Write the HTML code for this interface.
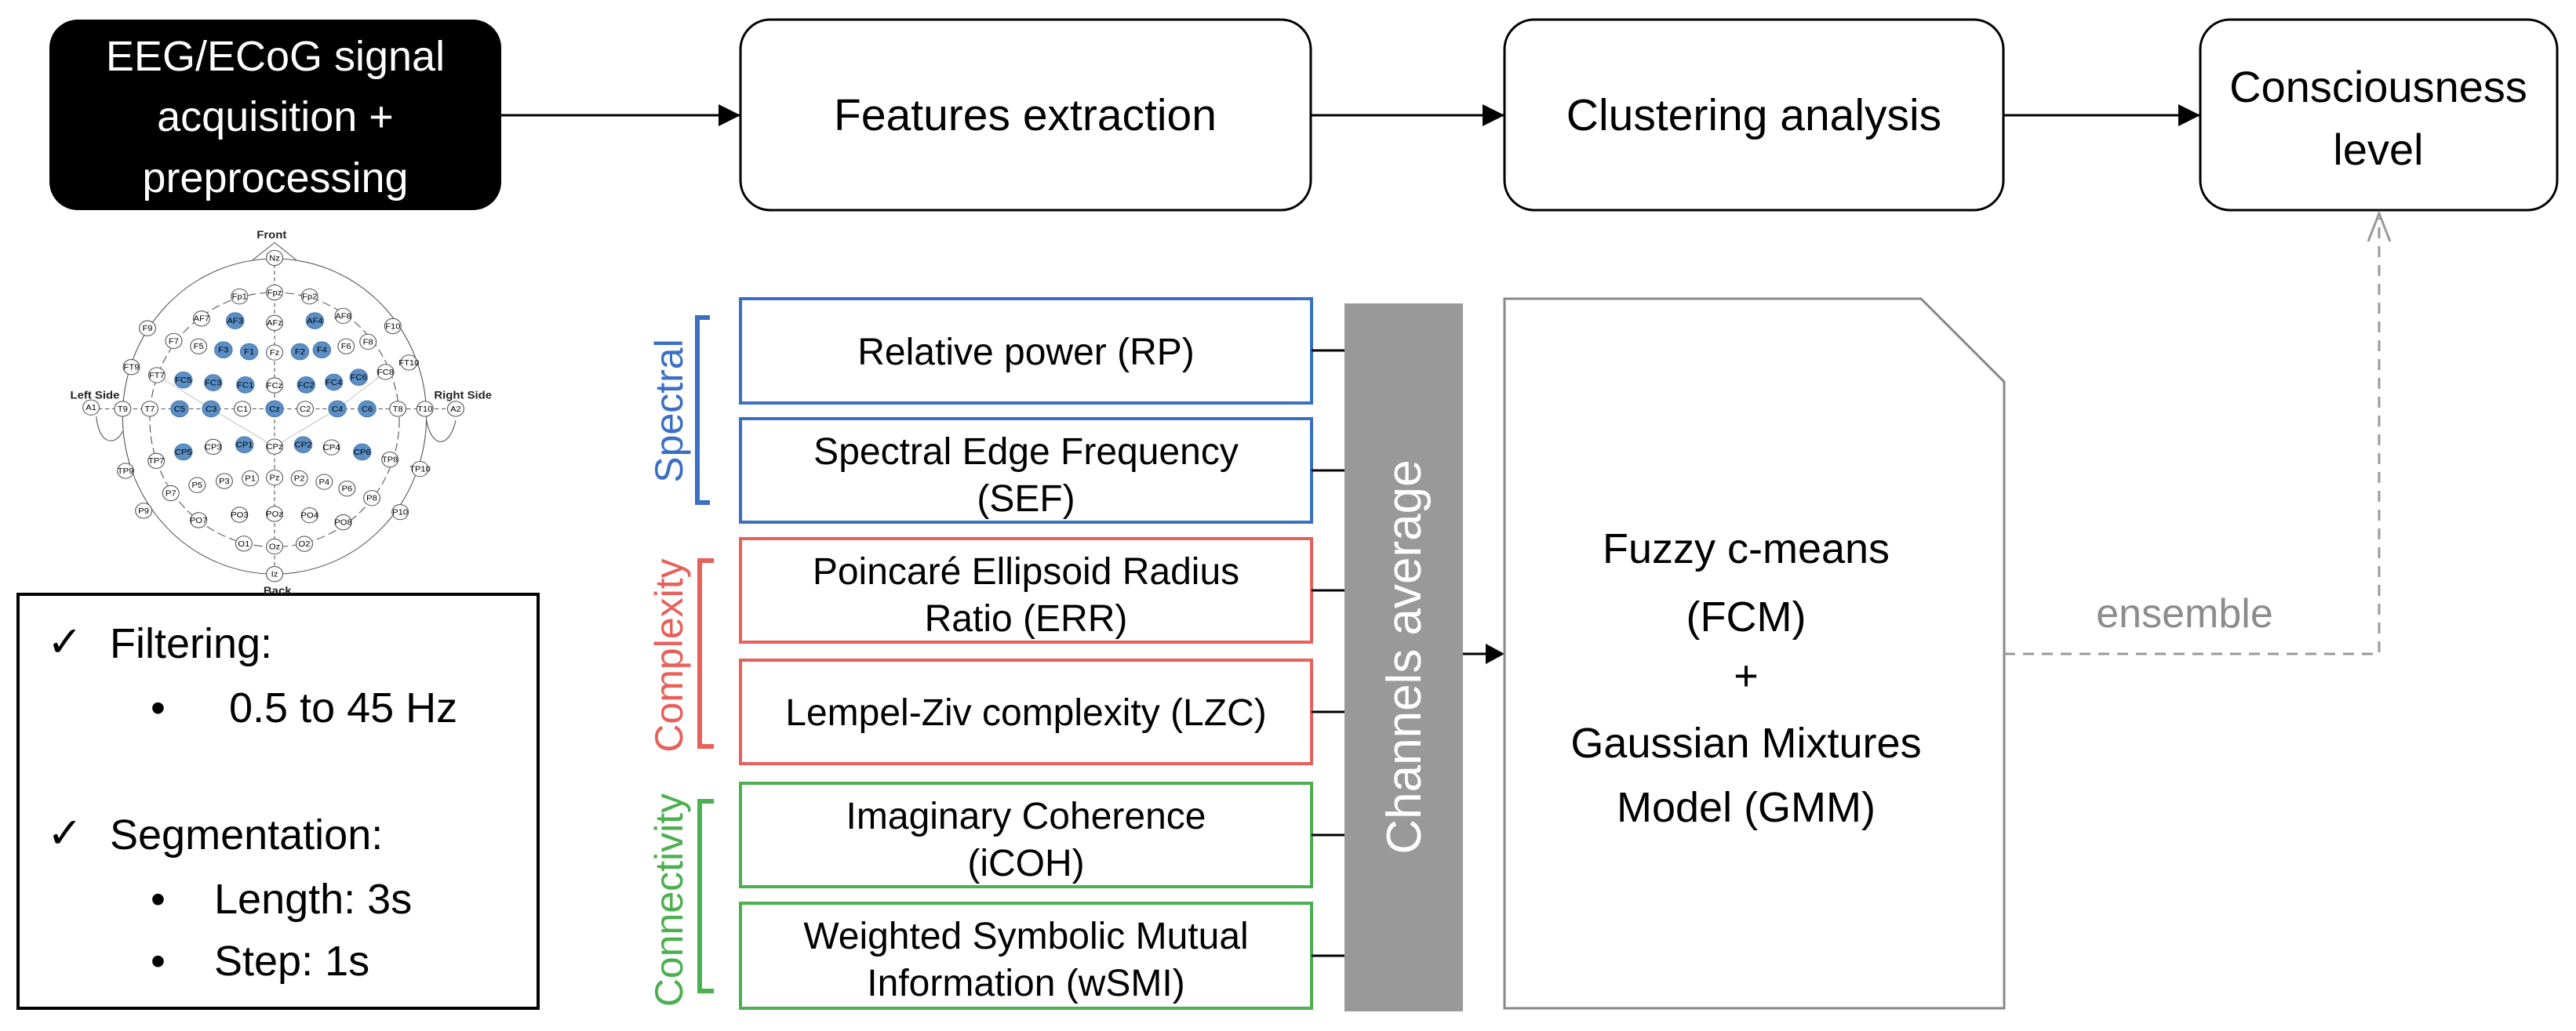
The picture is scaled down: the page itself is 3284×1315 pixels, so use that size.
<!DOCTYPE html>
<html><head><meta charset="utf-8"><style>
html,body{margin:0;padding:0;background:#fff;}
svg{display:block;}
text{font-family:"Liberation Sans",sans-serif;}
</style></head><body>
<svg width="3284" height="1315" viewBox="0 0 3284 1315" xmlns="http://www.w3.org/2000/svg">
<!-- top boxes -->
<rect x="63" y="25" width="576" height="243" rx="36" fill="#000"/>
<text x="351" y="90" font-size="54" fill="#fff" text-anchor="middle">EEG/ECoG signal</text>
<text x="351" y="167" font-size="54" fill="#fff" text-anchor="middle">acquisition +</text>
<text x="351" y="245" font-size="54" fill="#fff" text-anchor="middle">preprocessing</text>

<rect x="944" y="25" width="727" height="243" rx="38" fill="#fff" stroke="#000" stroke-width="3"/>
<text x="1307" y="166" font-size="57" text-anchor="middle">Features extraction</text>
<rect x="1918" y="25" width="636" height="243" rx="38" fill="#fff" stroke="#000" stroke-width="3"/>
<text x="2236" y="166" font-size="57" text-anchor="middle">Clustering analysis</text>
<rect x="2805" y="25" width="455" height="243" rx="38" fill="#fff" stroke="#000" stroke-width="3"/>
<text x="3032" y="130" font-size="56" text-anchor="middle">Consciousness</text>
<text x="3032" y="210" font-size="56" text-anchor="middle">level</text>

<g stroke="#000" stroke-width="3">
<line x1="639" y1="147" x2="944" y2="147"/>
<line x1="1671" y1="147" x2="1918" y2="147"/>
<line x1="2554" y1="147" x2="2805" y2="147"/>
</g>
<g fill="#000">
<path d="M944,147 l-28,-14 v28 z"/>
<path d="M1918,147 l-28,-14 v28 z"/>
<path d="M2805,147 l-28,-14 v28 z"/>
</g>

<!-- feature boxes -->
<g fill="#fff" stroke-width="4">
<rect x="944" y="381" width="728" height="133" stroke="#3a6fc4"/>
<rect x="944" y="534" width="728" height="132" stroke="#3a6fc4"/>
<rect x="944" y="687" width="728" height="132" stroke="#e8605a"/>
<rect x="944" y="842" width="728" height="132" stroke="#e8605a"/>
<rect x="944" y="999" width="728" height="132" stroke="#4caf50"/>
<rect x="944" y="1152" width="728" height="134" stroke="#4caf50"/>
</g>
<g font-size="48" text-anchor="middle">
<text x="1308" y="465">Relative power (RP)</text>
<text x="1308" y="592">Spectral Edge Frequency</text>
<text x="1308" y="652">(SEF)</text>
<text x="1308" y="745">Poincaré Ellipsoid Radius</text>
<text x="1308" y="805">Ratio (ERR)</text>
<text x="1308" y="925">Lempel-Ziv complexity (LZC)</text>
<text x="1308" y="1057">Imaginary Coherence</text>
<text x="1308" y="1117">(iCOH)</text>
<text x="1308" y="1210">Weighted Symbolic Mutual</text>
<text x="1308" y="1270">Information (wSMI)</text>
</g>
<g stroke="#000" stroke-width="3">
<line x1="1672" y1="447" x2="1714" y2="447"/>
<line x1="1672" y1="600" x2="1714" y2="600"/>
<line x1="1672" y1="753" x2="1714" y2="753"/>
<line x1="1672" y1="908" x2="1714" y2="908"/>
<line x1="1672" y1="1065" x2="1714" y2="1065"/>
<line x1="1672" y1="1219" x2="1714" y2="1219"/>
<line x1="1864" y1="834" x2="1896" y2="834"/>
</g>
<path d="M1918,834 l-24,-13 v26 z" fill="#000"/>
<rect x="1714" y="387" width="151" height="903" fill="#999"/>
<text transform="translate(1811,838) rotate(-90)" font-size="62" fill="#fff" text-anchor="middle">Channels average</text>

<!-- brackets -->
<g fill="none" stroke-width="6">
<path d="M905,405 h-16 v236 h16" stroke="#3a6fc4"/>
<path d="M910,715 h-18 v237 h18" stroke="#e8605a"/>
<path d="M910,1022 h-18 v242 h18" stroke="#4caf50"/>
</g>
<text transform="translate(870,524) rotate(-90)" font-size="50" fill="#3a6fc4" text-anchor="middle">Spectral</text>
<text transform="translate(870,836) rotate(-90)" font-size="50" fill="#e8605a" text-anchor="middle">Complexity</text>
<text transform="translate(870,1148) rotate(-90)" font-size="50" fill="#4caf50" text-anchor="middle">Connectivity</text>

<!-- document -->
<path d="M1918,381 H2449 L2555,487 V1286 H1918 Z" fill="#fff" stroke="#888" stroke-width="3"/>
<g font-size="54" text-anchor="middle">
<text x="2226" y="718">Fuzzy c-means</text>
<text x="2226" y="805">(FCM)</text>
<text x="2226" y="880">+</text>
<text x="2226" y="966">Gaussian Mixtures</text>
<text x="2226" y="1048">Model (GMM)</text>
</g>
<path d="M2555,834 H3033 V278" fill="none" stroke="#999" stroke-width="3" stroke-dasharray="14,10"/>
<path d="M3019,308 L3033,272 L3047,308" fill="none" stroke="#999" stroke-width="3"/>
<text x="2785" y="800" font-size="52" fill="#8c8c8c" text-anchor="middle">ensemble</text>

<!-- filter box -->
<rect x="23" y="758" width="663" height="528" fill="#fff" stroke="#000" stroke-width="4"/>
<g font-size="54">
<text x="60" y="837">✓</text><text x="140" y="839">Filtering:</text>
<text x="192" y="921">•</text><text x="292" y="921">0.5 to 45 Hz</text>
<text x="60" y="1081">✓</text><text x="140" y="1083">Segmentation:</text>
<text x="192" y="1165">•</text><text x="273" y="1165">Length: 3s</text>
<text x="192" y="1244">•</text><text x="273" y="1244">Step: 1s</text>
</g>

<!-- head -->
<svg x="-15" y="275" width="730" height="495" viewBox="0 0 1960 1440" preserveAspectRatio="none">
<g fill="none" stroke="#555" stroke-width="3">
<ellipse cx="980" cy="745" rx="520" ry="585"/>
<path d="M905,165 L980,100 L1055,165"/>
<ellipse cx="980" cy="757" rx="427" ry="472" stroke-dasharray="30,14"/>
<line x1="980" y1="157" x2="980" y2="1330" stroke-dasharray="14,10"/>
<line x1="352" y1="717" x2="1600" y2="717" stroke-dasharray="14,10"/>
<path d="M370,745 C380,860 440,850 460,800"/>
<path d="M1500,760 C1520,870 1580,860 1600,760"/>
<path d="M577,592 L763,717 L980,857 L1195,717 L1360,580" stroke="#aaa" stroke-width="2"/>
</g>
<g font-size="30" text-anchor="middle" stroke-width="3">
<circle cx="980" cy="157" r="28" fill="#fff" stroke="#555"/><text x="980" y="167">Nz</text>
<circle cx="980" cy="285" r="28" fill="#fff" stroke="#555"/><text x="980" y="295">Fpz</text>
<circle cx="860" cy="300" r="28" fill="#fff" stroke="#555"/><text x="860" y="310">Fp1</text>
<circle cx="1100" cy="300" r="28" fill="#fff" stroke="#555"/><text x="1100" y="310">Fp2</text>
<circle cx="730" cy="382" r="28" fill="#fff" stroke="#555"/><text x="730" y="392">AF7</text>
<circle cx="845" cy="390" r="30" fill="#5b8fc6" stroke="#4a7ab0"/><text x="845" y="400">AF3</text>
<circle cx="980" cy="398" r="28" fill="#fff" stroke="#555"/><text x="980" y="408">AFz</text>
<circle cx="1118" cy="390" r="30" fill="#5b8fc6" stroke="#4a7ab0"/><text x="1118" y="400">AF4</text>
<circle cx="1215" cy="372" r="28" fill="#fff" stroke="#555"/><text x="1215" y="382">AF8</text>
<circle cx="545" cy="418" r="28" fill="#fff" stroke="#555"/><text x="545" y="428">F9</text>
<circle cx="1385" cy="410" r="28" fill="#fff" stroke="#555"/><text x="1385" y="420">F10</text>
<circle cx="635" cy="465" r="28" fill="#fff" stroke="#555"/><text x="635" y="475">F7</text>
<circle cx="720" cy="485" r="28" fill="#fff" stroke="#555"/><text x="720" y="495">F5</text>
<circle cx="805" cy="498" r="30" fill="#5b8fc6" stroke="#4a7ab0"/><text x="805" y="508">F3</text>
<circle cx="893" cy="505" r="30" fill="#5b8fc6" stroke="#4a7ab0"/><text x="893" y="515">F1</text>
<circle cx="980" cy="508" r="28" fill="#fff" stroke="#555"/><text x="980" y="518">Fz</text>
<circle cx="1067" cy="505" r="30" fill="#5b8fc6" stroke="#4a7ab0"/><text x="1067" y="515">F2</text>
<circle cx="1142" cy="498" r="30" fill="#5b8fc6" stroke="#4a7ab0"/><text x="1142" y="508">F4</text>
<circle cx="1225" cy="485" r="28" fill="#fff" stroke="#555"/><text x="1225" y="495">F6</text>
<circle cx="1300" cy="468" r="28" fill="#fff" stroke="#555"/><text x="1300" y="478">F8</text>
<circle cx="490" cy="562" r="28" fill="#fff" stroke="#555"/><text x="490" y="572">FT9</text>
<circle cx="1440" cy="545" r="28" fill="#fff" stroke="#555"/><text x="1440" y="555">FT10</text>
<circle cx="577" cy="592" r="28" fill="#fff" stroke="#555"/><text x="577" y="602">FT7</text>
<circle cx="668" cy="610" r="30" fill="#5b8fc6" stroke="#4a7ab0"/><text x="668" y="620">FC5</text>
<circle cx="770" cy="620" r="30" fill="#5b8fc6" stroke="#4a7ab0"/><text x="770" y="630">FC3</text>
<circle cx="880" cy="628" r="30" fill="#5b8fc6" stroke="#4a7ab0"/><text x="880" y="638">FC1</text>
<circle cx="980" cy="630" r="28" fill="#fff" stroke="#555"/><text x="980" y="640">FCz</text>
<circle cx="1088" cy="628" r="30" fill="#5b8fc6" stroke="#4a7ab0"/><text x="1088" y="638">FC2</text>
<circle cx="1183" cy="618" r="30" fill="#5b8fc6" stroke="#4a7ab0"/><text x="1183" y="628">FC4</text>
<circle cx="1268" cy="600" r="30" fill="#5b8fc6" stroke="#4a7ab0"/><text x="1268" y="610">FC6</text>
<circle cx="1360" cy="580" r="28" fill="#fff" stroke="#555"/><text x="1360" y="590">FC8</text>
<circle cx="352" cy="712" r="28" fill="#fff" stroke="#555"/><text x="352" y="722">A1</text>
<circle cx="460" cy="717" r="28" fill="#fff" stroke="#555"/><text x="460" y="727">T9</text>
<circle cx="553" cy="717" r="28" fill="#fff" stroke="#555"/><text x="553" y="727">T7</text>
<circle cx="655" cy="717" r="30" fill="#5b8fc6" stroke="#4a7ab0"/><text x="655" y="727">C5</text>
<circle cx="763" cy="717" r="30" fill="#5b8fc6" stroke="#4a7ab0"/><text x="763" y="727">C3</text>
<circle cx="870" cy="717" r="28" fill="#fff" stroke="#555"/><text x="870" y="727">C1</text>
<circle cx="980" cy="717" r="30" fill="#5b8fc6" stroke="#4a7ab0"/><text x="980" y="727">Cz</text>
<circle cx="1085" cy="717" r="28" fill="#fff" stroke="#555"/><text x="1085" y="727">C2</text>
<circle cx="1195" cy="717" r="30" fill="#5b8fc6" stroke="#4a7ab0"/><text x="1195" y="727">C4</text>
<circle cx="1297" cy="717" r="30" fill="#5b8fc6" stroke="#4a7ab0"/><text x="1297" y="727">C6</text>
<circle cx="1402" cy="717" r="28" fill="#fff" stroke="#555"/><text x="1402" y="727">T8</text>
<circle cx="1495" cy="717" r="28" fill="#fff" stroke="#555"/><text x="1495" y="727">T10</text>
<circle cx="1600" cy="717" r="28" fill="#fff" stroke="#555"/><text x="1600" y="727">A2</text>
<circle cx="470" cy="947" r="28" fill="#fff" stroke="#555"/><text x="470" y="957">TP9</text>
<circle cx="668" cy="877" r="30" fill="#5b8fc6" stroke="#4a7ab0"/><text x="668" y="887">CP5</text>
<circle cx="770" cy="858" r="28" fill="#fff" stroke="#555"/><text x="770" y="868">CP3</text>
<circle cx="877" cy="850" r="30" fill="#5b8fc6" stroke="#4a7ab0"/><text x="877" y="860">CP1</text>
<circle cx="980" cy="857" r="28" fill="#fff" stroke="#555"/><text x="980" y="867">CPz</text>
<circle cx="1078" cy="850" r="30" fill="#5b8fc6" stroke="#4a7ab0"/><text x="1078" y="860">CP2</text>
<circle cx="1175" cy="860" r="28" fill="#fff" stroke="#555"/><text x="1175" y="870">CP4</text>
<circle cx="1280" cy="877" r="30" fill="#5b8fc6" stroke="#4a7ab0"/><text x="1280" y="887">CP6</text>
<circle cx="575" cy="910" r="28" fill="#fff" stroke="#555"/><text x="575" y="920">TP7</text>
<circle cx="1375" cy="905" r="28" fill="#fff" stroke="#555"/><text x="1375" y="915">TP8</text>
<circle cx="1478" cy="940" r="28" fill="#fff" stroke="#555"/><text x="1478" y="950">TP10</text>
<circle cx="625" cy="1030" r="28" fill="#fff" stroke="#555"/><text x="625" y="1040">P7</text>
<circle cx="715" cy="1000" r="28" fill="#fff" stroke="#555"/><text x="715" y="1010">P5</text>
<circle cx="808" cy="985" r="28" fill="#fff" stroke="#555"/><text x="808" y="995">P3</text>
<circle cx="897" cy="975" r="28" fill="#fff" stroke="#555"/><text x="897" y="985">P1</text>
<circle cx="980" cy="972" r="28" fill="#fff" stroke="#555"/><text x="980" y="982">Pz</text>
<circle cx="1065" cy="975" r="28" fill="#fff" stroke="#555"/><text x="1065" y="985">P2</text>
<circle cx="1150" cy="988" r="28" fill="#fff" stroke="#555"/><text x="1150" y="998">P4</text>
<circle cx="1228" cy="1013" r="28" fill="#fff" stroke="#555"/><text x="1228" y="1023">P6</text>
<circle cx="1313" cy="1048" r="28" fill="#fff" stroke="#555"/><text x="1313" y="1058">P8</text>
<circle cx="532" cy="1095" r="28" fill="#fff" stroke="#555"/><text x="532" y="1105">P9</text>
<circle cx="1410" cy="1100" r="28" fill="#fff" stroke="#555"/><text x="1410" y="1110">P10</text>
<circle cx="720" cy="1130" r="28" fill="#fff" stroke="#555"/><text x="720" y="1140">PO7</text>
<circle cx="860" cy="1110" r="28" fill="#fff" stroke="#555"/><text x="860" y="1120">PO3</text>
<circle cx="980" cy="1107" r="28" fill="#fff" stroke="#555"/><text x="980" y="1117">POz</text>
<circle cx="1100" cy="1112" r="28" fill="#fff" stroke="#555"/><text x="1100" y="1122">PO4</text>
<circle cx="1215" cy="1138" r="28" fill="#fff" stroke="#555"/><text x="1215" y="1148">PO8</text>
<circle cx="875" cy="1217" r="28" fill="#fff" stroke="#555"/><text x="875" y="1227">O1</text>
<circle cx="980" cy="1228" r="28" fill="#fff" stroke="#555"/><text x="980" y="1238">Oz</text>
<circle cx="1082" cy="1218" r="28" fill="#fff" stroke="#555"/><text x="1082" y="1228">O2</text>
<circle cx="980" cy="1330" r="28" fill="#fff" stroke="#555"/><text x="980" y="1340">Iz</text>
</g>
<g font-size="40" font-weight="bold" text-anchor="middle" fill="#222">
<text x="970" y="85">Front</text>
<text x="990" y="1405">Back</text>
<text x="365" y="680">Left Side</text>
<text x="1625" y="680">Right Side</text>
</g>
</svg>
</svg>
</body></html>
